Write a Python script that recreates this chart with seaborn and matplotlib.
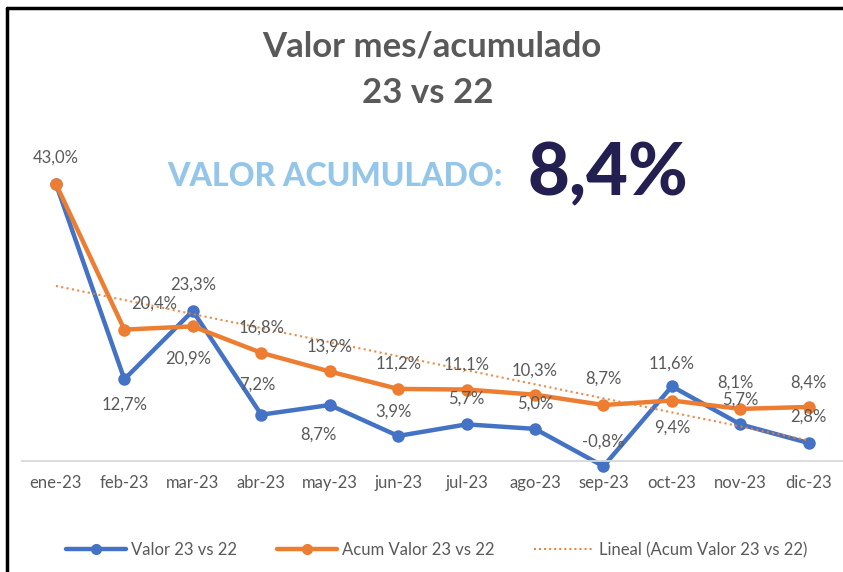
import numpy as np
import pandas as pd
import seaborn as sns
import matplotlib.pyplot as plt
from matplotlib.lines import Line2D

# data
meses = ['ene-23', 'feb-23', 'mar-23', 'abr-23', 'may-23', 'jun-23',
         'jul-23', 'ago-23', 'sep-23', 'oct-23', 'nov-23', 'dic-23']
valor = [43.0, 12.7, 23.3, 7.2, 8.7, 3.9, 5.7, 5.0, -0.8, 11.6, 5.7, 2.8]
acum = [43.0, 20.4, 20.9, 16.8, 13.9, 11.2, 11.1, 10.3, 8.7, 9.4, 8.1, 8.4]
acumulado_total = '8,4%'

# label offsets in pixels (dx, dy), None = no label
off_valor = [(0, 26), (0, -25), (0, 26), (-4, 30), (-11, -30), (-5, 24),
             (0, 26), (0, 25), (0, 25), (0, 23), (0, 25), (0, 26)]
off_acum = [None, (30, 26), (-5, -32), (0, 25), (0, 25), (0, 25),
            (0, 25), (0, 24), (0, 26), (0, -27), (-5, 26), (0, 24)]

AZUL = '#4472C4'
NARANJA = '#ED7D31'
GRIS = '#595959'

df = pd.DataFrame({'x': np.arange(len(meses)), 'mes': meses,
                   'valor': valor, 'acum': acum})

sns.set_style('white')
plt.rcParams['font.family'] = ['Lato', 'DejaVu Sans']

fig = plt.figure(figsize=(8.43, 5.72), dpi=100)
ax = fig.add_axes([21.7 / 843, 1 - 474 / 572, (843 - 21.7) / 843, (474 - 171) / 572])

sns.lineplot(data=df, x='x', y='valor', ax=ax, color=AZUL, lw=3.2,
             marker='o', markersize=9, markeredgewidth=0, sort=False,
             label='Valor 23 vs 22', legend=False)
sns.lineplot(data=df, x='x', y='acum', ax=ax, color=NARANJA, lw=3.2,
             marker='o', markersize=9, markeredgewidth=0, sort=False,
             label='Acum Valor 23 vs 22', legend=False)

# linear trend of the accumulated series
pend, orig = np.polyfit(df['x'], df['acum'], 1)
ax.plot(df['x'], orig + pend * df['x'], color=NARANJA, lw=1.5,
        ls=(0, (1, 1.6)), alpha=0.9, label='Lineal (Acum Valor 23 vs 22)')


def fmt(v):
    return f'{v:.1f}%'.replace('.', ',')


for serie, offs in [(valor, off_valor), (acum, off_acum)]:
    for i, (v, o) in enumerate(zip(serie, offs)):
        if o is None:
            continue
        ax.annotate(fmt(v), (i, v), xytext=o, textcoords='offset pixels',
                    ha='center', va='center', fontsize=12, color=GRIS)

ax.set_xlim(-0.5, 11.5)
ax.set_ylim(-2, 45)
for s in ['top', 'left', 'right']:
    ax.spines[s].set_visible(False)
ax.spines['bottom'].set_position(('data', 0))
ax.spines['bottom'].set_color('#d9d9d9')
ax.spines['bottom'].set_linewidth(1.3)
ax.set_xticks(df['x'])
ax.set_xticklabels(meses)
ax.set_xticks(np.arange(-0.5, 12, 1), minor=True)
ax.tick_params(axis='x', which='major', length=0, pad=10, labelsize=12,
               labelcolor=GRIS)
ax.tick_params(axis='x', which='minor', length=3, color='#d9d9d9', width=1.3,
               direction='out')
ax.set_yticks([])
ax.set_xlabel('')
ax.set_ylabel('')
ax.patch.set_alpha(0)

fig.text(0.512, 1 - 47 / 572, 'Valor mes/acumulado', ha='center', va='center',
         fontsize=25, fontweight='bold', color=GRIS)
fig.text(0.508, 1 - 93 / 572, '23 vs 22', ha='center', va='center',
         fontsize=25, fontweight='bold', color=GRIS)
fig.text(167 / 843, 1 - 177 / 572, 'VALOR ACUMULADO:', ha='left', va='center',
         fontsize=23, fontweight='black', color='#93C6E8')
fig.text(528 / 843, 1 - 175 / 572, acumulado_total, ha='left', va='center',
         fontsize=52, fontweight='black', color='#231F50')

handles = [
    Line2D([], [], color=AZUL, lw=3.2, marker='o', markersize=7),
    Line2D([], [], color=NARANJA, lw=3.2, marker='o', markersize=7),
    Line2D([], [], color=NARANJA, lw=1.4, ls=(0, (1, 1.6))),
]
fig.legend(handles, ['Valor 23 vs 22', 'Acum Valor 23 vs 22',
                     'Lineal (Acum Valor 23 vs 22)'],
           loc='center', bbox_to_anchor=(0.518, 1 - 550 / 572), ncol=3,
           frameon=False, fontsize=12, labelcolor=GRIS, handlelength=3.6,
           columnspacing=2.4, handletextpad=0.3)

# black frame on the left and top
fig.add_artist(Line2D([7 / 843, 7 / 843], [0, 1 - 8 / 572], color='black',
                      lw=2.5, transform=fig.transFigure))
fig.add_artist(Line2D([7 / 843, 1], [1 - 8 / 572, 1 - 8 / 572], color='black',
                      lw=2.5, transform=fig.transFigure))

fig.savefig('out.png', dpi=100)
